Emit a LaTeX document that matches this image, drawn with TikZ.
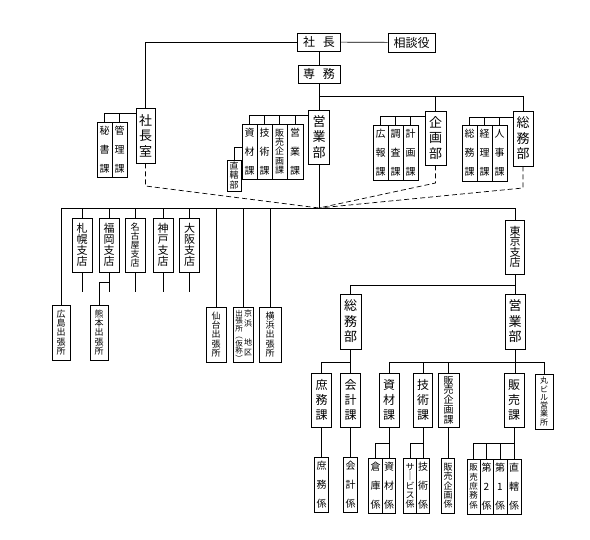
\documentclass[tikz,border=0pt]{standalone}
\usepackage{fontspec}
\setmainfont{Noto Sans CJK JP}
\begin{document}
\begin{tikzpicture}[x=1pt,y=-1pt,
  bx/.style={draw, line width=0.7pt, inner sep=0pt, align=center, fill=white},
  ln/.style={line width=0.7pt},
  dsh/.style={line width=0.7pt, dash pattern=on 5pt off 3pt},
  fA/.style={font=\fontsize{10}{19}\selectfont},
  fB/.style={font=\fontsize{13}{15.5}\selectfont},
  fC/.style={font=\fontsize{11}{11}\selectfont},
  fD/.style={font=\fontsize{9}{9.3}\selectfont},
  fE/.style={font=\fontsize{12}{15}\selectfont},
  fH/.style={font=\fontsize{12}{14}\selectfont},
  nk/.style={minimum width=15pt, minimum height=55pt},
  bu/.style={minimum width=21pt, minimum height=55pt},
  sh/.style={minimum width=20pt, minimum height=54pt},
  kk/.style={minimum width=13.5pt, minimum height=55pt}
]
\fill[white] (0,0) rectangle (590,540);
\useasboundingbox (0,0) rectangle (590,540);

% ---------- top ----------
\node[bx,fH,minimum width=43pt,minimum height=18pt] (shacho) at (319,42) {社\hspace{8pt}長};
\node[bx,fH,minimum width=47pt,minimum height=19pt] (sodan) at (411.5,42.5) {相談役};
\node[bx,fH,minimum width=42pt,minimum height=18pt] (senmu) at (319,74) {専\hspace{8pt}務};

\node[bx,fB,minimum width=19pt,minimum height=55pt] (shitsu) at (145.5,135.5) {社\\長\\室};
\node[bx,fA,nk] (hisho) at (104.5,149.5) {秘\\書\\課};
\node[bx,fA,nk] (kanri) at (119.5,149.5) {管\\理\\課};

\node[bx,fB,bu,minimum height=54pt] (eigyo) at (319,137) {営\\業\\部};
\node[bx,fA,nk] (shizai) at (249.5,151.5) {資\\材\\課};
\node[bx,fA,nk] (gijutsu) at (264.5,151.5) {技\\術\\課};
\node[bx,fD,nk] (hanki) at (279.5,151.5) {販\\売\\企\\画\\課};
\node[bx,fA,nk,minimum width=16pt] (eigyoka) at (295,151.5) {営\\業\\課};
\node[bx,font=\fontsize{9}{9.8}\selectfont,minimum width=14pt,minimum height=31pt] (chokkatsu) at (234,175.5) {直\\轄\\部};

\node[bx,fB,bu,minimum height=54pt] (kikaku) at (435.5,138) {企\\画\\部};
\node[bx,fA,nk] (koho) at (380.5,152.5) {広\\報\\課};
\node[bx,fA,nk] (chosa) at (395.5,152.5) {調\\査\\課};
\node[bx,fA,nk] (keikaku) at (410.5,152.5) {計\\画\\課};

\node[bx,fB,minimum width=20pt,minimum height=55pt] (somu) at (523,138.5) {総\\務\\部};
\node[bx,fA,nk,minimum height=56pt] (somuka) at (469.5,153) {総\\務\\課};
\node[bx,fA,nk,minimum height=56pt] (keiri) at (484.5,153) {経\\理\\課};
\node[bx,fA,nk,minimum height=56pt] (jinji) at (499.5,153) {人\\事\\課};

\draw[ln] (shacho) -- (sodan);
\draw[ln] (shacho.west) -| (shitsu.north);
\draw[ln] (shacho.south) -- (senmu.north);
\draw[ln] (senmu.south) -- (eigyo.north);
\coordinate (j1) at (319,96);
\draw[ln] (j1) -| (kikaku.north);
\draw[ln] (j1) -| (somu.north);

\coordinate (b1) at (136,113);
\draw[ln] (b1) -| (hisho.north);
\draw[ln] (kanri.north) -- (kanri.north |- b1);
\coordinate (b2) at (308.5,115);
\draw[ln] (b2) -| (shizai.north);
\draw[ln] (gijutsu.north) -- (gijutsu.north |- b2);
\draw[ln] (hanki.north) -- (hanki.north |- b2);
\draw[ln] (eigyoka.north) -- (eigyoka.north |- b2);
\coordinate (b3) at (242,147);
\draw[ln] (chokkatsu.north) |- (b3);
\coordinate (b4) at (425,116);
\draw[ln] (b4) -| (koho.north);
\draw[ln] (chosa.north) -- (chosa.north |- b4);
\draw[ln] (keikaku.north) -- (keikaku.north |- b4);
\coordinate (b5) at (513,117);
\draw[ln] (b5) -| (somuka.north);
\draw[ln] (keiri.north) -- (keiri.north |- b5);
\draw[ln] (jinji.north) -- (jinji.north |- b5);

% ---------- dashed ----------
\coordinate (hub) at (319,208);
\coordinate (d1) at (145.5,186);
\coordinate (d2) at (435.5,183);
\coordinate (d3) at (523,188);
\draw[dsh] (shitsu.south) -- (d1) -- (hub);
\draw[dsh] (kikaku.south) -- (d2) -- (hub);
\draw[dsh] (somu.south) -- (d3) -- (hub);

% ---------- branches ----------
\node[bx,fC,sh] (sapporo) at (82,245) {札\\幌\\支\\店};
\node[bx,fC,sh] (fukuoka) at (109,245) {福\\岡\\支\\店};
\node[bx,font=\fontsize{9}{9}\selectfont,sh] (nagoya) at (135,245) {名\\古\\屋\\支\\店};
\node[bx,fC,sh] (kobe) at (163,245) {神\\戸\\支\\店};
\node[bx,fC,sh] (osaka) at (189.5,245) {大\\阪\\支\\店};

\node[bx,fD,minimum width=18pt,minimum height=55pt] (hiroshima) at (61,332.5) {広\\島\\出\\張\\所};
\node[bx,fD,minimum width=18pt,minimum height=55pt] (kumamoto) at (99,332.5) {熊\\本\\出\\張\\所};
\node[bx,fD,minimum width=20pt,minimum height=55pt] (sendai) at (216,334.5) {仙\\台\\出\\張\\所};
\node[bx,minimum width=20pt,minimum height=55pt] (keihin) at (243,334.5) {};
\node[font=\fontsize{8}{10}\selectfont,align=center,inner sep=0pt] (keihinR) at (248,332.5) {京\\浜\\[9pt]地\\区};
\node[font=\fontsize{7.5}{7.5}\selectfont,align=center,inner sep=0pt] (keihinL) at (239,335.5) {出\\張\\所\\︵\\仮\\称\\︶};
\node[bx,fD,minimum width=22pt,minimum height=55pt] (yokohama) at (270,334.5) {横\\浜\\出\\張\\所};

\node[bx,font=\fontsize{11}{10.5}\selectfont,minimum width=19pt,minimum height=54pt] (tokyo) at (515,247) {東\\京\\支\\店};

\coordinate (m0) at (61,208);
\draw[ln] (eigyo.south) -- (hub);
\draw[ln] (m0) -| (tokyo.north);
\draw[ln] (m0) -- (hiroshima.north);
\draw[ln] (sapporo.north) -- (sapporo.north |- m0);
\draw[ln] (fukuoka.north) -- (fukuoka.north |- m0);
\draw[ln] (nagoya.north) -- (nagoya.north |- m0);
\draw[ln] (kobe.north) -- (kobe.north |- m0);
\draw[ln] (osaka.north) -- (osaka.north |- m0);
\draw[ln] (sendai.north) -- (sendai.north |- m0);
\draw[ln] (keihin.north) -- (keihin.north |- m0);
\draw[ln] (yokohama.north) -- (yokohama.north |- m0);

\coordinate (t1) at (82,292);
\coordinate (t2) at (109,292);
\coordinate (t3) at (135,292);
\coordinate (t4) at (163,292);
\coordinate (t5) at (189.5,292);
\draw[ln] (sapporo.south) -- (t1);
\draw[ln] (fukuoka.south) -- (t2);
\draw[ln] (nagoya.south) -- (t3);
\draw[ln] (kobe.south) -- (t4);
\draw[ln] (osaka.south) -- (t5);
\coordinate (f1) at (109,282);
\draw[ln] (f1) -| (kumamoto.north);

% ---------- Tokyo ----------
\node[bx,fB,minimum width=20pt,minimum height=55pt] (teigyo) at (515,321.5) {営\\業\\部};
\node[bx,fB,bu] (tsomu) at (350.5,321.5) {総\\務\\部};
\coordinate (k1) at (515,285);
\draw[ln] (tokyo.south) -- (teigyo.north);
\draw[ln] (k1) -| (tsomu.north);

\node[bx,fE,sh] (shomuka) at (321.5,400) {庶\\務\\課};
\node[bx,fE,sh] (kaikeika) at (350.5,400) {会\\計\\課};
\node[bx,fE,sh] (tshizai) at (389,400) {資\\材\\課};
\node[bx,fE,sh,minimum width=19pt] (tgijutsu) at (423,400) {技\\術\\課};
\node[bx,font=\fontsize{10}{9.8}\selectfont,sh,minimum width=21pt] (thanki) at (448.5,400) {販\\売\\企\\画\\課};
\node[bx,fE,sh] (hanbai) at (514,400) {販\\売\\課};
\node[bx,font=\fontsize{8}{8.3}\selectfont,minimum width=18pt,minimum height=55pt] (marubiru) at (544,401.5) {丸\\ビ\\ル\\営\\業\\所};

\coordinate (k2) at (350.5,362);
\draw[ln] (tsomu.south) -- (kaikeika.north);
\draw[ln] (k2) -| (shomuka.north);
\coordinate (k3) at (515,362);
\draw[ln] (teigyo.south) -- (teigyo.south |- hanbai.north);
\draw[ln] (k3) -| (tshizai.north);
\draw[ln] (k3) -| (marubiru.north);
\draw[ln] (tgijutsu.north) -- (tgijutsu.north |- k3);
\draw[ln] (thanki.north) -- (thanki.north |- k3);

\node[bx,fA,kk,minimum width=14pt] (shomugakari) at (321.5,485) {庶\\務\\係};
\node[bx,fA,kk,minimum width=14pt] (kaikeigakari) at (350.5,485) {会\\計\\係};
\node[bx,fA,kk] (soko) at (375.5,486) {倉\\庫\\係};
\node[bx,fA,kk] (shizaigakari) at (389,486) {資\\材\\係};
\node[bx,fD,kk,minimum width=13pt] (service) at (410,486) {サ\\｜\\ビ\\ス\\係};
\node[bx,fA,kk,minimum width=13pt] (gijutsugakari) at (423,486) {技\\術\\係};
\node[bx,fD,kk,minimum width=13pt] (hankigakari) at (448,486) {販\\売\\企\\画\\係};
\node[bx,font=\fontsize{8.5}{9.3}\selectfont,kk,minimum width=13pt] (hanshomu) at (473.5,486.5) {販\\売\\庶\\務\\係};
\node[bx,fA,kk,minimum width=13pt] (dai2) at (486.5,486.5) {第\\2\\係};
\node[bx,fA,kk,minimum width=14pt] (dai1) at (500,486.5) {第\\1\\係};
\node[bx,fA,kk,minimum width=14pt] (chokkatsugakari) at (514,486.5) {直\\轄\\係};

\draw[ln] (shomuka.south) -- (shomugakari.north);
\draw[ln] (kaikeika.south) -- (kaikeigakari.north);
\coordinate (k4) at (389,443);
\draw[ln] (tshizai.south) -- (shizaigakari.north);
\draw[ln] (k4) -| (soko.north);
\coordinate (k5) at (423,443);
\draw[ln] (tgijutsu.south) -- (gijutsugakari.north);
\draw[ln] (k5) -| (service.north);
\draw[ln] (thanki.south) -- (thanki.south |- hankigakari.north);
\coordinate (k6) at (514,443);
\draw[ln] (hanbai.south) -- (chokkatsugakari.north);
\draw[ln] (k6) -| (hanshomu.north);
\draw[ln] (dai2.north) -- (dai2.north |- k6);
\draw[ln] (dai1.north) -- (dai1.north |- k6);
\end{tikzpicture}
\end{document}
